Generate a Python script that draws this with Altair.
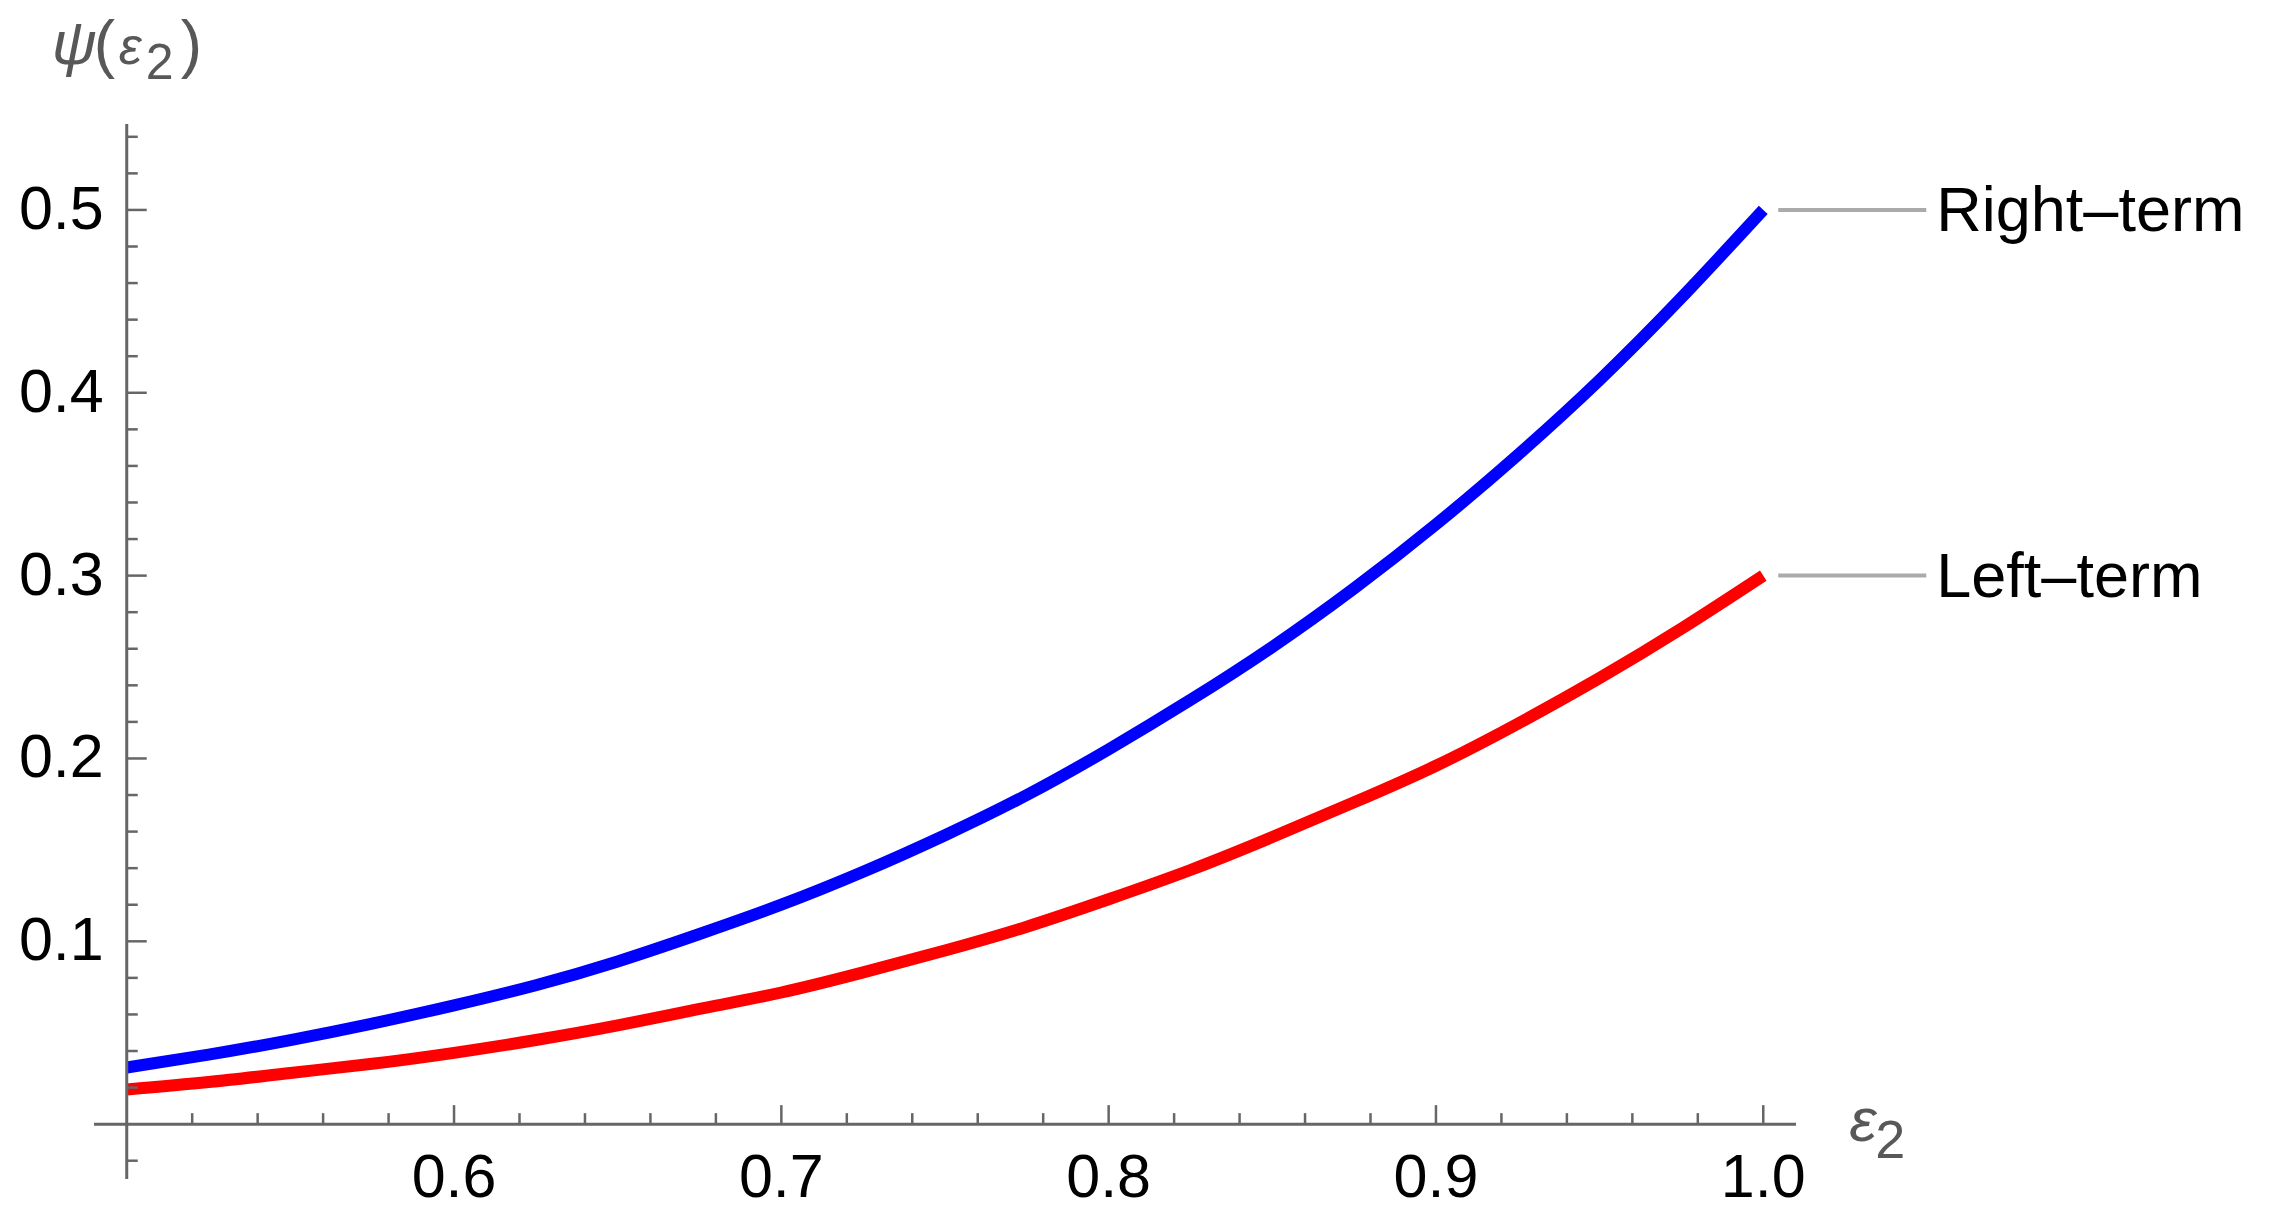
import altair as alt
import pandas as pd

# ---- data ----
eps = [0.500, 0.525, 0.550, 0.575, 0.600, 0.625, 0.650, 0.675, 0.700, 0.725, 0.750,
       0.775, 0.800, 0.825, 0.850, 0.875, 0.900, 0.925, 0.950, 0.975, 1.000]
right_term = [0.031, 0.038, 0.046, 0.055, 0.065, 0.076, 0.089, 0.104, 0.120, 0.138, 0.158,
              0.180, 0.205, 0.232, 0.261, 0.293, 0.328, 0.366, 0.407, 0.452, 0.500]
left_term = [0.019, 0.023, 0.028, 0.033, 0.039, 0.046, 0.054, 0.063, 0.072, 0.083, 0.095,
             0.108, 0.123, 0.139, 0.157, 0.176, 0.196, 0.219, 0.244, 0.271, 0.300]
series_names = ["Right\u2013term", "Left\u2013term"]
series_colors = ["#0000FF", "#FF0000"]

x_major = [0.6, 0.7, 0.8, 0.9, 1.0]
x_minor = [0.52, 0.54, 0.56, 0.58, 0.62, 0.64, 0.66, 0.68, 0.72, 0.74, 0.76, 0.78,
           0.82, 0.84, 0.86, 0.88, 0.92, 0.94, 0.96, 0.98]
y_major = [0.1, 0.2, 0.3, 0.4, 0.5]
y_minor = [-0.02, 0.02, 0.04, 0.06, 0.08, 0.12, 0.14, 0.16, 0.18, 0.22, 0.24, 0.26, 0.28,
           0.32, 0.34, 0.36, 0.38, 0.42, 0.44, 0.46, 0.48, 0.52, 0.54]

X_DOMAIN = [0.49, 1.01]
Y_DOMAIN = [-0.03, 0.547]
X_ORIGIN = 0.5
Y_ORIGIN = 0.0

W, H = 1702, 1055
FONT = "Liberation Sans"
AXIS_COLOR = "#666666"
LABEL_GRAY = "#585858"

xs = alt.Scale(domain=X_DOMAIN, nice=False, zero=False)
ys = alt.Scale(domain=Y_DOMAIN, nice=False, zero=False)

def X(field):
    return alt.X(field, scale=xs, axis=None)

def Y(field):
    return alt.Y(field, scale=ys, axis=None)

curves = pd.DataFrame({
    "eps": eps + eps,
    "psi": right_term + left_term,
    "series": [series_names[0]] * len(eps) + [series_names[1]] * len(eps),
})

lines = alt.Chart(curves).mark_line(strokeWidth=12, interpolate="natural").encode(
    x=X("eps:Q"),
    y=Y("psi:Q"),
    color=alt.Color("series:N", scale=alt.Scale(domain=series_names, range=series_colors), legend=None),
    detail="series:N",
)

# axis lines
xaxis_df = pd.DataFrame({"x": [X_DOMAIN[0]], "x2": [X_DOMAIN[1]], "y": [Y_ORIGIN]})
yaxis_df = pd.DataFrame({"y": [Y_DOMAIN[0]], "y2": [Y_DOMAIN[1]], "x": [X_ORIGIN]})

xaxis_line = alt.Chart(xaxis_df).mark_rule(color=AXIS_COLOR, strokeWidth=3).encode(
    x=X("x:Q"), x2="x2", y=Y("y:Q"))
yaxis_line = alt.Chart(yaxis_df).mark_rule(color=AXIS_COLOR, strokeWidth=3).encode(
    y=Y("y:Q"), y2="y2", x=X("x:Q"))

def xticks(vals, length):
    d = pd.DataFrame({"v": vals, "y0": [Y_ORIGIN] * len(vals)})
    return alt.Chart(d).mark_rule(color=AXIS_COLOR, strokeWidth=2.5, y2Offset=-length).encode(
        x=X("v:Q"), y=Y("y0:Q"), y2="y0")

def yticks(vals, length):
    d = pd.DataFrame({"v": vals, "x0": [X_ORIGIN] * len(vals)})
    return alt.Chart(d).mark_rule(color=AXIS_COLOR, strokeWidth=2.5, x2Offset=length).encode(
        y=Y("v:Q"), x=X("x0:Q"), x2="x0")

# tick labels
xlab_df = pd.DataFrame({"v": x_major, "y0": [Y_ORIGIN] * len(x_major)})
xlabels = alt.Chart(xlab_df).mark_text(
    align="center", baseline="top", dy=25, fontSize=61, font=FONT, color="black").encode(
    x=X("v:Q"), y=Y("y0:Q"), text=alt.Text("v:Q", format=".1f"))
ylab_df = pd.DataFrame({"v": y_major, "x0": [X_ORIGIN] * len(y_major)})
ylabels = alt.Chart(ylab_df).mark_text(
    align="right", baseline="middle", dx=-23, dy=1, fontSize=61, font=FONT, color="black").encode(
    y=Y("v:Q"), x=X("x0:Q"), text=alt.Text("v:Q", format=".1f"))

# text helper anchored at a data point
def piece(text, ax, ay, dx, dy, size, italic=False, color=LABEL_GRAY, align="left", baseline="alphabetic"):
    d = pd.DataFrame({"x": [ax], "y": [ay], "t": [text]})
    kw = dict(dx=dx, dy=dy, fontSize=size, font=FONT, color=color, align=align, baseline=baseline)
    if italic:
        kw["fontStyle"] = "italic"
    return alt.Chart(d).mark_text(**kw).encode(x=X("x:Q"), y=Y("y:Q"), text="t:N")

ytitle = [
    piece("\u03c8", X_ORIGIN, Y_DOMAIN[1], -75, -60, 62, italic=True),
    piece("(", X_ORIGIN, Y_DOMAIN[1], -33, -58, 64),
    piece("\u03b5", X_ORIGIN, Y_DOMAIN[1], -8, -60, 52, italic=True),
    piece("2", X_ORIGIN, Y_DOMAIN[1], 19, -45, 50),
    piece(")", X_ORIGIN, Y_DOMAIN[1], 54, -58, 64),
]
xtitle = [
    piece("\u03b5", eps[-1], Y_ORIGIN, 86, 17, 62, italic=True),
    piece("2", eps[-1], Y_ORIGIN, 112, 34, 54),
]

# callout labels at curve ends
ends = pd.DataFrame({"x": [eps[-1], eps[-1]], "y": [right_term[-1], left_term[-1]], "t": series_names})
leaders = alt.Chart(ends).mark_rule(color="#AAAAAA", strokeWidth=4, xOffset=15, x2Offset=163).encode(
    x=X("x:Q"), x2="x", y=Y("y:Q"))
end_labels = alt.Chart(ends).mark_text(
    align="left", baseline="middle", dx=173, dy=2, fontSize=63, font=FONT, color="black").encode(
    x=X("x:Q"), y=Y("y:Q"), text="t:N")

chart = alt.layer(
    lines,
    xaxis_line, yaxis_line,
    xticks(x_major, 19), xticks(x_minor, 11),
    yticks(y_major, 20), yticks(y_minor, 11),
    xlabels, ylabels,
    leaders, end_labels,
    *ytitle, *xtitle,
).properties(
    width=W, height=H,
    padding={"left": 86, "top": 116, "right": 475, "bottom": 38},
    autosize=alt.AutoSizeParams(type="none"),
).configure_view(stroke=None)

chart.save("out.html", embed_options={"renderer": "svg", "actions": False})
